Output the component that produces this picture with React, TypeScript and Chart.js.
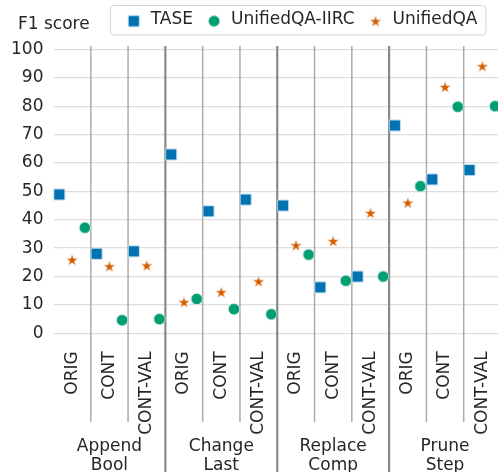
import React, { useEffect, useRef } from 'react';
import { Chart, registerables } from 'chart.js';

Chart.register(...registerables);

// ---- data ----
const groupLabels = [['Append', 'Bool'], ['Change', 'Last'], ['Replace', 'Comp'], ['Prune', 'Step']];
const conditions = ['ORIG', 'CONT', 'CONT-VAL'];
const categoryIndex = [0, 1, 2, 3, 4, 5, 6, 7, 8, 9, 10, 11];
const seriesNames = ['TASE', 'UnifiedQA-IIRC', 'UnifiedQA'];
const taseValues = [48.9, 28.0, 28.9, 63.0, 43.0, 47.1, 45.0, 16.2, 20.0, 73.2, 54.2, 57.5];
const iircValues = [37.2, 4.6, 5.0, 12.1, 8.5, 6.7, 27.7, 18.5, 20.0, 51.8, 79.8, 80.0];
const uqaValues = [25.9, 23.6, 23.9, 11.0, 14.5, 18.3, 31.0, 32.5, 42.4, 46.0, 86.8, 94.1];
const seriesValues = [taseValues, iircValues, uqaValues];
const seriesOffsets = [-0.345, 0.34, 0];
const seriesColors = ['#0173b2', '#029e73', '#d55e00'];
const seriesShapes = ['square', 'circle', 'star'];
const yAxisTitle = 'F1 score';

const FONT = "'DejaVu Sans', 'Liberation Sans', sans-serif";
const FS = 17;
const LEG_PAD = 12.5;
const TEXT = '#262626';

function makeMarker(kind: string, color: string, dy: number): HTMLCanvasElement {
  const c = document.createElement('canvas');
  const W = 16;
  const H = 16;
  c.width = W;
  c.height = H;
  const ctx = c.getContext('2d')!;
  const cx = W / 2;
  const cy = H / 2 + dy;
  ctx.fillStyle = color;
  ctx.strokeStyle = '#ffffff';
  ctx.lineWidth = 0.6;
  ctx.beginPath();
  if (kind === 'square') {
    ctx.rect(cx - 5.6, cy - 5.6, 11.2, 11.2);
  } else if (kind === 'circle') {
    ctx.arc(cx, cy, 5.7, 0, Math.PI * 2);
  } else {
    const R = 6.5;
    const r = R * 0.382;
    for (let k = 0; k < 10; k++) {
      const a = -Math.PI / 2 + (k * Math.PI) / 5;
      const rr = k % 2 === 0 ? R : r;
      const px = cx + rr * Math.cos(a);
      const py = cy + 0.6 + rr * Math.sin(a);
      if (k === 0) ctx.moveTo(px, py);
      else ctx.lineTo(px, py);
    }
    ctx.closePath();
  }
  ctx.fill();
  ctx.stroke();
  return c;
}

export default function App() {
  const ref = useRef<HTMLCanvasElement | null>(null);

  useEffect(() => {
    const canvas = ref.current;
    if (!canvas) return;

    const pointMarkers = seriesShapes.map((s, i) => makeMarker(s, seriesColors[i], 0));
    const legendMarkers = seriesShapes.map((s, i) => makeMarker(s, seriesColors[i], 1.5));

    const decor = {
      id: 'decor',
      afterLayout(chart: any) {
        const lg = chart.legend;
        if (!lg) return;
        const p = lg.options.labels.padding;
        const bw = lg.options.labels.pointStyleWidth;
        const w = lg.width;
        const h = lg.height;
        lg.left = 133.8 - bw / 2 - p;
        lg.right = lg.left + w;
        lg.top = 19.6 - FS / 2 - p;
        lg.bottom = lg.top + h;
      },
      beforeDraw(chart: any) {
        const lg = chart.legend;
        if (!lg || !lg.legendHitBoxes || !lg.legendHitBoxes.length) return;
        const hb = lg.legendHitBoxes;
        const last = hb[hb.length - 1];
        const left = hb[0].left - 15.5;
        const right = last.left + last.width + 8;
        const ctx = chart.ctx;
        ctx.save();
        ctx.beginPath();
        (ctx as any).roundRect(left + 0.5, 5.5, right - left, 29.5, 3.5);
        ctx.fillStyle = '#ffffff';
        ctx.fill();
        ctx.strokeStyle = '#d4d4d4';
        ctx.lineWidth = 1;
        ctx.stroke();
        ctx.restore();
      },
      beforeDatasetsDraw(chart: any) {
        const ctx = chart.ctx;
        const xs = chart.scales.x;
        const top = chart.chartArea.top;
        ctx.save();
        for (let b = 0; b < categoryIndex.length; b++) {
          const x = xs.getPixelForValue(categoryIndex[b] + 0.5);
          const isGroup = b % 3 === 2;
          ctx.beginPath();
          ctx.moveTo(x, top);
          ctx.lineTo(x, isGroup ? 472 : 422);
          ctx.strokeStyle = isGroup ? '#8a8a8a' : '#ababab';
          ctx.lineWidth = isGroup ? 2.2 : 1.5;
          ctx.stroke();
        }
        ctx.restore();
      },
      afterDraw(chart: any) {
        const ctx = chart.ctx;
        const xs = chart.scales.x;
        ctx.save();
        ctx.fillStyle = TEXT;
        ctx.font = `${FS}px ${FONT}`;
        ctx.textBaseline = 'alphabetic';
        ctx.textAlign = 'left';
        ctx.fillText(yAxisTitle, 18, 29.3);
        ctx.textAlign = 'center';
        groupLabels.forEach((lines, g) => {
          const cx = xs.getPixelForValue(g * 3 + 1);
          ctx.fillText(lines[0], cx, 451);
          ctx.fillText(lines[1], cx, 470);
        });
        ctx.restore();
      },
    };

    const chart = new Chart(canvas, {
      type: 'scatter',
      data: {
        datasets: seriesNames.map((name, i) => ({
          label: name,
          data: seriesValues[i].map((v, j) => ({ x: categoryIndex[j] + seriesOffsets[i], y: v })),
          pointStyle: pointMarkers[i] as any,
          pointRadius: 0.1,
          pointBorderWidth: 0,
          backgroundColor: seriesColors[i],
          borderColor: seriesColors[i],
          clip: false as any,
        })),
      },
      options: {
        responsive: false,
        animation: false,
        events: [],
        layout: { autoPadding: false, padding: { top: 46 - (FS + LEG_PAD + 10), left: 0, right: 0, bottom: 0 } },
        plugins: {
          tooltip: { enabled: false },
          legend: {
            display: true,
            position: 'top',
            align: 'start',
            labels: {
              usePointStyle: true,
              pointStyleWidth: 17,
              padding: LEG_PAD,
              color: TEXT,
              font: { family: FONT, size: FS },
              generateLabels: () =>
                seriesNames.map((name, i) => ({
                  text: name,
                  pointStyle: legendMarkers[i] as any,
                  fillStyle: seriesColors[i],
                  strokeStyle: seriesColors[i],
                  lineWidth: 0,
                  hidden: false,
                  datasetIndex: i,
                  fontColor: TEXT,
                })),
            },
          },
        },
        scales: {
          x: {
            type: 'linear',
            min: -0.5,
            max: 11.42,
            afterBuildTicks: (s: any) => {
              s.ticks = categoryIndex.map((v) => ({ value: v }));
            },
            afterFit: (s: any) => {
              s.height = 138.7;
              s.paddingLeft = 0;
              s.paddingRight = 0;
            },
            grid: { display: false },
            border: { display: false },
            ticks: {
              autoSkip: false,
              minRotation: 90,
              maxRotation: 90,
              padding: 10,
              color: TEXT,
              font: { family: FONT, size: FS },
              callback: (v: any) => conditions[Math.round(Number(v)) % 3],
            },
          },
          y: {
            type: 'linear',
            min: 0,
            max: 101.2,
            afterFit: (s: any) => {
              s.width = 53.5;
              s.paddingTop = 0;
              s.paddingBottom = 0;
            },
            grid: { color: '#dedede', lineWidth: 1.3, drawTicks: false },
            border: { display: false },
            ticks: {
              stepSize: 10,
              includeBounds: false,
              padding: 10,
              color: TEXT,
              font: { family: FONT, size: FS },
            },
          },
        },
      },
      plugins: [decor],
    });

    return () => {
      chart.destroy();
    };
  }, []);

  return (
    <div style={{ position: 'fixed', left: 0, top: 0, width: 498, height: 472, overflow: 'hidden', background: '#fff' }}>
      <canvas ref={ref} width={498} height={472} style={{ width: 498, height: 472, display: 'block' }} />
    </div>
  );
}
